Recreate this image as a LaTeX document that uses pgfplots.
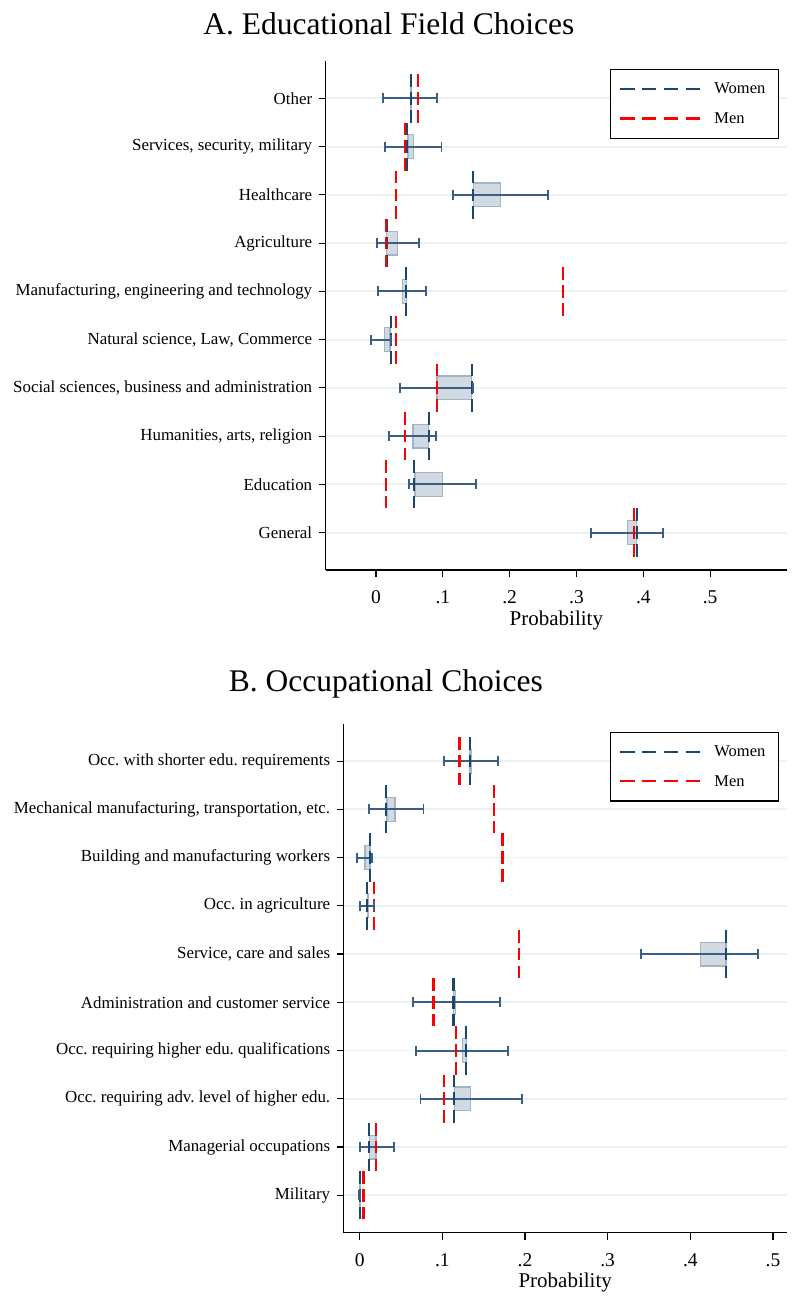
\documentclass[border=0pt]{standalone}
\usepackage{fontspec}
\setmainfont{Liberation Serif}
\usepackage{pgfplots}
\pgfplotsset{compat=1.18}
\usepgfplotslibrary{statistics}
\usepackage{pgfplotstable}
\frenchspacing

\definecolor{navy}{RGB}{26,71,111}
\definecolor{whisk}{RGB}{58,95,131}
\definecolor{boxfill}{RGB}{209,218,226}
\definecolor{boxdraw}{RGB}{163,181,197}
\definecolor{gridc}{RGB}{234,242,243}

% pos: 1 = bottom row ... 10 = top row
% wm = women line, mm = men line, lo/hi = whisker ends
\pgfplotstableread{
pos wm mm lo hi
10 0.0524 0.0624 0.0105 0.0913
9  0.0460 0.0434 0.0140 0.0980
8  0.1457 0.0305 0.1158 0.2580
7  0.0160 0.0150 0.0020 0.0644
6  0.0449 0.2804 0.0030 0.0749
5  0.0220 0.0300 -0.0080 0.0230
4  0.1432 0.0908 0.0364 0.1447
3  0.0788 0.0434 0.0195 0.0898
2  0.0574 0.0150 0.0494 0.1497
1  0.3902 0.3867 0.3219 0.4296
}\dataA

\pgfplotstableread{
pos wm mm lo hi
10 0.1336 0.1207 0.1021 0.1675
9  0.0319 0.1622 0.0109 0.0771
8  0.0125 0.1727 -0.0032 0.0153
7  0.0093 0.0169 0.0008 0.0173
6  0.4435 0.1929 0.3406 0.4814
5  0.1134 0.0892 0.0642 0.1695
4  0.1291 0.1170 0.0682 0.1796
3  0.1142 0.1017 0.0735 0.1961
2  0.0113 0.0194 0.0000 0.0412
1  0.0000 0.0045 -0.0005 0.0008
}\dataB

\pgfplotsset{
  panel/.style={
    scale only axis,
    anchor=south west,
    height=509pt,
    ymin=0.225, ymax=10.775,
    axis lines*=left,
    axis line style={black, line width=1.2pt},
    tick style={black, line width=1.2pt},
    tick align=outside,
    major tick length=7pt,
    xtick={0,0.1,0.2,0.3,0.4,0.5},
    xticklabels={0,.1,.2,.3,.4,.5},
    ytick={1,2,3,4,5,6,7,8,9,10},
    ymajorgrids,
    major grid style={gridc, line width=1.8pt},
    xticklabel style={font=\fontsize{19.5}{22}\selectfont, yshift=-10pt},
    yticklabel style={font=\fontsize{16.9}{19}\selectfont, xshift=-3pt},
    xlabel={Probability},
    xlabel style={font=\fontsize{21}{24}\selectfont},
    boxplot/draw direction=x,
    boxplot/box extend=0.49,
    boxplot/whisker extend=0,
    boxplot/every box/.style={draw=boxdraw, fill=boxfill, line width=1.3pt},
    boxplot/every whisker/.style={draw=none},
    boxplot/every median/.style={draw=none},
    legend style={draw=black, line width=1.1pt, font=\fontsize{16.5}{19}\selectfont,
      inner xsep=8.4pt, inner ysep=5pt, column sep=13.3pt,
      nodes={inner xsep=0pt, inner ysep=0pt, minimum height=29.3pt,
        text width=55.6pt, align=left, anchor=west}},
    legend cell align=left,
  },
  box/.style={forget plot, boxplot prepared={#1}},
  wline/.style={forget plot, whisk, line width=1.9pt, mark=none},
  wcap/.style={forget plot, only marks, mark=|, mark size=5pt,
    mark options={whisk, line width=1.9pt}},
  medline/.style={forget plot, #1, line width=2.1pt, mark=none,
    dash pattern=on 12.7pt off 5.1pt},
  legline/.style={legend image code/.code={\draw[#1, line width=2.1pt,
    dash pattern=on 14.5pt off 7.3pt] (0pt,0pt) -- (80pt,0pt);}},
}

\begin{document}
\begin{tikzpicture}
\useasboundingbox (0pt,0pt) rectangle (795pt,-1308pt);

\node[anchor=base, font=\fontsize{31.5}{36}\selectfont] at (388.8pt,-35pt) {A. Educational Field Choices};
\node[anchor=base, font=\fontsize{31.5}{36}\selectfont] at (385.8pt,-691.7pt) {B. Occupational Choices};

% ---------------- Panel A ----------------
\begin{axis}[panel,
  at={(325.7pt,-570pt)},
  width=461.3pt,
  xmin=-0.0753, xmax=0.615,
  yticklabels={{General},{Education},{Humanities, arts, religion},
    {Social sciences, business and administration},
    {Natural science, Law, Commerce},
    {Manufacturing, engineering and technology},
    {Agriculture},{Healthcare},{Services, security, military},{Other}},
  legend style={at={(axis description cs:0.9827,0.9843)}, anchor=north east},
]
\addplot[box={draw position=10, lower whisker=0.0515, lower quartile=0.0515, median=0.0515, upper quartile=0.0535, upper whisker=0.0535}] coordinates {};
\addplot[box={draw position=9, lower whisker=0.048, lower quartile=0.048, median=0.048, upper quartile=0.056, upper whisker=0.056}] coordinates {};
\addplot[box={draw position=8, lower whisker=0.1457, lower quartile=0.1457, median=0.1457, upper quartile=0.186, upper whisker=0.186}] coordinates {};
\addplot[box={draw position=7, lower whisker=0.016, lower quartile=0.016, median=0.016, upper quartile=0.0325, upper whisker=0.0325}] coordinates {};
\addplot[box={draw position=6, lower whisker=0.0394, lower quartile=0.0394, median=0.0394, upper quartile=0.0454, upper whisker=0.0454}] coordinates {};
\addplot[box={draw position=5, lower whisker=0.0125, lower quartile=0.0125, median=0.0125, upper quartile=0.021, upper whisker=0.021}] coordinates {};
\addplot[box={draw position=4, lower whisker=0.0913, lower quartile=0.0913, median=0.0913, upper quartile=0.1432, upper whisker=0.1432}] coordinates {};
\addplot[box={draw position=3, lower whisker=0.0554, lower quartile=0.0554, median=0.0554, upper quartile=0.0788, upper whisker=0.0788}] coordinates {};
\addplot[box={draw position=2, lower whisker=0.0584, lower quartile=0.0584, median=0.0584, upper quartile=0.0993, upper whisker=0.0993}] coordinates {};
\addplot[box={draw position=1, lower whisker=0.376, lower quartile=0.376, median=0.376, upper quartile=0.3897, upper whisker=0.3897}] coordinates {};

\addplot[wline, quiver={u=\thisrow{hi}-\thisrow{lo}, v=0}] table[x=lo, y=pos] {\dataA};
\addplot[wcap] table[x=lo, y=pos] {\dataA};
\addplot[wcap] table[x=hi, y=pos] {\dataA};
\addplot[medline=navy, quiver={u=0, v=1}] table[x=wm, y expr=\thisrow{pos}-0.5] {\dataA};
\addplot[medline=red, quiver={u=0, v=1}] table[x=mm, y expr=\thisrow{pos}-0.5] {\dataA};

\addlegendimage{legline=navy}
\addlegendentry{Women}
\addlegendimage{legline=red}
\addlegendentry{Men}
\end{axis}

% ---------------- Panel B ----------------
\begin{axis}[panel,
  at={(343.7pt,-1232.7pt)},
  width=443pt,
  xmin=-0.0194, xmax=0.5166,
  yticklabels={{Military},{Managerial occupations},
    {Occ. requiring adv. level of higher edu.},
    {Occ. requiring higher edu. qualifications},
    {Administration and customer service},
    {Service, care and sales},{Occ. in agriculture},
    {Building and manufacturing workers},
    {Mechanical manufacturing, transportation, etc.},
    {Occ. with shorter edu. requirements}},
  legend style={at={(axis description cs:0.9826,0.984)}, anchor=north east},
]
\addplot[box={draw position=10, lower whisker=0.1328, lower quartile=0.1328, median=0.1328, upper quartile=0.1345, upper whisker=0.1345}] coordinates {};
\addplot[box={draw position=9, lower whisker=0.0331, lower quartile=0.0331, median=0.0331, upper quartile=0.0428, upper whisker=0.0428}] coordinates {};
\addplot[box={draw position=8, lower whisker=0.0065, lower quartile=0.0065, median=0.0065, upper quartile=0.0125, upper whisker=0.0125}] coordinates {};
\addplot[box={draw position=7, lower whisker=0.0093, lower quartile=0.0093, median=0.0093, upper quartile=0.011, upper whisker=0.011}] coordinates {};
\addplot[box={draw position=6, lower whisker=0.412, lower quartile=0.412, median=0.412, upper quartile=0.443, upper whisker=0.443}] coordinates {};
\addplot[box={draw position=5, lower whisker=0.1134, lower quartile=0.1134, median=0.1134, upper quartile=0.1162, upper whisker=0.1162}] coordinates {};
\addplot[box={draw position=4, lower whisker=0.1243, lower quartile=0.1243, median=0.1243, upper quartile=0.1291, upper whisker=0.1291}] coordinates {};
\addplot[box={draw position=3, lower whisker=0.1146, lower quartile=0.1146, median=0.1146, upper quartile=0.134, upper whisker=0.134}] coordinates {};
\addplot[box={draw position=2, lower whisker=0.0117, lower quartile=0.0117, median=0.0117, upper quartile=0.0198, upper whisker=0.0198}] coordinates {};
\addplot[box={draw position=1, lower whisker=0.0, lower quartile=0.0, median=0.0, upper quartile=0.001, upper whisker=0.001}] coordinates {};

\addplot[wline, quiver={u=\thisrow{hi}-\thisrow{lo}, v=0}] table[x=lo, y=pos] {\dataB};
\addplot[wcap] table[x=lo, y=pos] {\dataB};
\addplot[wcap] table[x=hi, y=pos] {\dataB};
\addplot[medline=navy, quiver={u=0, v=1}] table[x=wm, y expr=\thisrow{pos}-0.5] {\dataB};
\addplot[medline=red, quiver={u=0, v=1}] table[x=mm, y expr=\thisrow{pos}-0.5] {\dataB};

\addlegendimage{legline=navy}
\addlegendentry{Women}
\addlegendimage{legline=red}
\addlegendentry{Men}
\end{axis}
\end{tikzpicture}
\end{document}
